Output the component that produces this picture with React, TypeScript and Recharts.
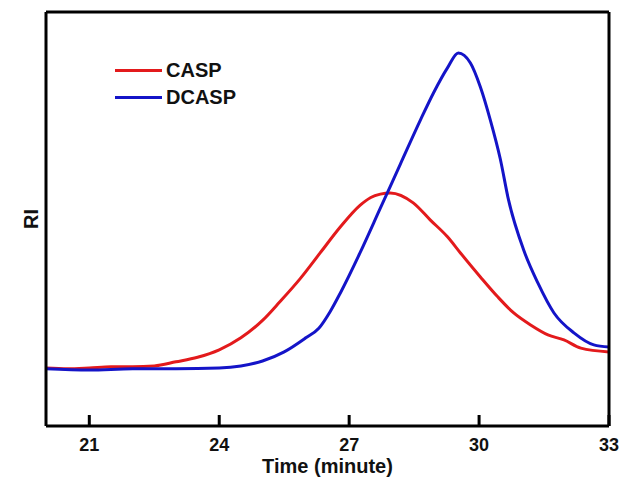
import React from 'react';
import { LineChart, Line, XAxis, YAxis } from 'recharts';

const caspTime = [20, 20.5, 21, 21.5, 22, 22.5, 23, 23.5, 24, 24.5, 25, 25.4, 25.87, 26.33, 26.79, 27.25, 27.5, 27.72, 27.95, 28.48, 28.87, 29.27, 29.57, 30.03, 30.43, 30.8, 31.19, 31.59, 31.96, 32.35, 33];
const caspRI = [14.0, 13.8, 14.0, 14.3, 14.3, 14.5, 15.5, 16.6, 18.4, 21.3, 25.5, 30.0, 35.6, 41.8, 48.0, 53.3, 55.2, 56.0, 56.3, 53.9, 49.8, 45.7, 41.8, 36.0, 31.2, 27.3, 24.4, 22.0, 20.8, 18.8, 17.9];

const dcaspTime = [20, 21, 22, 23, 24, 24.5, 25, 25.5, 26, 26.3, 26.56, 26.8, 27.25, 27.72, 28.18, 28.65, 28.95, 29.27, 29.52, 29.8, 30.03, 30.26, 30.49, 30.68, 31.03, 31.36, 31.73, 32.19, 32.65, 33];
const dcaspRI = [13.8, 13.5, 13.8, 13.8, 14.0, 14.5, 15.7, 17.9, 21.3, 23.6, 27.6, 32.2, 41.8, 52.6, 63.2, 74.0, 80.5, 86.5, 90.1, 87.7, 81.9, 73.9, 64.5, 54.6, 42.5, 34.5, 27.3, 22.5, 19.6, 19.1];

const xTicks = [21, 24, 27, 30, 33];
const seriesNames = ['CASP', 'DCASP'];
const seriesColors = ['#e31a1c', '#1414c8'];

const caspData = caspTime.map((t, i) => ({ t, v: caspRI[i] }));
const dcaspData = dcaspTime.map((t, i) => ({ t, v: dcaspRI[i] }));

const FONT = '"Liberation Sans", Arial, sans-serif';

const axisLine = { stroke: '#000', strokeWidth: 3 };

const TickWithMark = (props: any) => {
  const { x, y, payload } = props;
  return (
    <g>
      <path d={`M${x},${y - 11}L${x},${y}`} stroke="#000" strokeWidth={3} fill="none" />
      <text x={x} y={y + 25} textAnchor="middle" fill="#111" fontFamily={FONT} fontWeight="bold" fontSize={18}>
        {payload.value}
      </text>
    </g>
  );
};

export default function App() {
  return (
    <div style={{ position: 'absolute', left: 0, top: 0, background: '#fff', width: 621, height: 488 }}>
      <LineChart width={621} height={488} margin={{ top: 11, right: 11, bottom: 61, left: 45 }}>
        <XAxis
          dataKey="t"
          type="number"
          domain={[20, 33]}
          ticks={xTicks}
          allowDataOverflow
          height={1}
          axisLine={axisLine}
          tickLine={false}
          tickSize={0}
          tickMargin={0}
          tick={<TickWithMark />}
          label={{ value: 'Time (minute)', position: 'bottom', offset: 32, fill: '#111', fontFamily: FONT, fontWeight: 'bold', fontSize: 20 }}
        />
        <XAxis xAxisId="top" orientation="top" dataKey="t" type="number" domain={[20, 33]} height={1} tick={false} tickLine={false} axisLine={axisLine} />
        <YAxis
          type="number"
          domain={[0, 100]}
          width={1}
          tick={false}
          tickLine={false}
          axisLine={axisLine}
          label={{ value: 'RI', angle: -90, position: 'left', offset: 14, textAnchor: 'middle', fill: '#111', fontFamily: FONT, fontWeight: 'bold', fontSize: 20 }}
        />
        <YAxis yAxisId="right" orientation="right" type="number" domain={[0, 100]} width={1} tick={false} tickLine={false} axisLine={axisLine} />
        <Line data={caspData} dataKey="v" name={seriesNames[0]} type="monotone" stroke={seriesColors[0]} strokeWidth={3} dot={false} isAnimationActive={false} />
        <Line data={dcaspData} dataKey="v" name={seriesNames[1]} type="monotone" stroke={seriesColors[1]} strokeWidth={3} dot={false} isAnimationActive={false} />
      </LineChart>
      <div style={{ position: 'absolute', left: 115, top: 57, fontFamily: FONT, fontWeight: 'bold', fontSize: 20 }}>
        {seriesNames.map((n, i) => (
          <div key={n} style={{ display: 'flex', alignItems: 'center', height: 27 }}>
            <div style={{ width: 47, height: 3, background: seriesColors[i], marginRight: 4 }} />
            <span style={{ color: '#111' }}>{n}</span>
          </div>
        ))}
      </div>
    </div>
  );
}
